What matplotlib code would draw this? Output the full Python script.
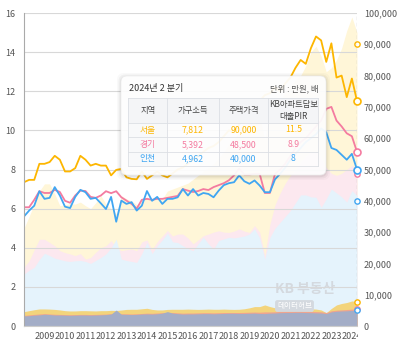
import matplotlib
matplotlib.use("Agg")
import matplotlib.pyplot as plt
import numpy as np
from matplotlib.patches import FancyBboxPatch, Rectangle
from matplotlib.transforms import Bbox

plt.rcParams['font.family'] = ['Noto Sans CJK KR', 'DejaVu Sans']

# quarterly, 2008 Q1 .. 2024 Q2
years = [str(y) for y in range(2009, 2025)]
regions = ['서울', '경기', '인천']
last_quarter = '2024년 2 분기'

# KB apartment PIR (left axis)
seoul_pir = [7.35, 7.47, 7.47, 8.29, 8.29, 8.38, 8.7, 8.5, 7.9, 7.9,
             8.07, 8.7, 8.5, 8.2, 8.29, 8.2, 8.2, 7.7, 7.98, 8.03,
             7.6, 7.52, 7.5, 7.9, 7.52, 7.7, 7.9, 7.7, 7.6, 7.8,
             8.0, 8.1, 8.3, 8.5, 8.7, 8.9, 9.1, 9.2, 9.4, 9.7,
             10.0, 9.9, 10.3, 10.6, 10.9, 11.3, 11.5, 11.8, 11.9, 12.2,
             12.0, 12.4, 12.7, 13.2, 13.6, 13.4, 14.2, 14.8, 14.6, 13.5,
             14.45, 12.7, 12.8, 11.7, 12.65, 11.5]
gyeonggi_pir = [6.07, 6.07, 6.45, 6.89, 6.8, 6.8, 6.96, 6.85, 6.4, 6.3,
                6.67, 6.92, 6.9, 6.6, 6.55, 6.67, 6.89, 6.79, 6.89, 6.58,
                6.41, 6.24, 6.0, 6.45, 6.5, 6.45, 6.5, 6.5, 6.55, 6.6,
                6.65, 7.0, 6.92, 6.85, 6.9, 7.0, 6.95, 7.1, 7.2, 7.3,
                7.45, 7.7, 8.05, 7.75, 7.75, 7.78, 7.78, 6.8, 6.8, 7.78,
                8.0, 8.3, 8.7, 9.1, 9.4, 9.6, 9.9, 10.2, 10.5, 11.1,
                11.2, 10.5, 10.2, 9.85, 9.7, 8.9]
incheon_pir = [5.6, 5.9, 6.15, 6.89, 6.5, 6.55, 7.1, 6.67, 6.1, 6.03,
               6.6, 6.96, 6.84, 6.5, 6.55, 6.27, 5.98, 6.6, 5.33, 6.41,
               6.24, 6.33, 5.9, 6.15, 6.9, 6.4, 6.6, 6.24, 6.5, 6.5,
               6.58, 7.0, 6.67, 7.0, 6.67, 6.8, 6.75, 6.58, 6.92, 7.2,
               7.3, 7.35, 7.7, 7.4, 7.27, 7.44, 7.18, 6.84, 6.84, 7.5,
               7.78, 8.1, 8.5, 8.8, 9.1, 9.4, 9.6, 9.8, 10.1, 9.9,
               9.1, 9.0, 8.75, 8.5, 8.8, 8.0]

# house price (만원)
seoul_price = [30000, 33600, 37400, 41400, 43600, 43600, 40500, 36900, 37200, 37500,
               37400, 38000, 36900, 36000, 37800, 40000, 37400, 36000, 34400, 40000,
               39000, 38400, 37200, 38400, 39600, 38400, 39600, 39000, 41400, 42000,
               42600, 43200, 43800, 45000, 46200, 47400, 48600, 49800, 51600, 53400,
               55800, 57600, 59400, 60600, 62400, 63600, 64800, 57000, 66000, 67200,
               69000, 72000, 73800, 75600, 76800, 79800, 84000, 85800, 82800, 78000,
               79200, 81600, 85200, 90600, 94800, 90000]
gyeonggi_price = [18000, 20000, 23400, 26600, 26600, 25600, 24600, 23100, 22500, 22100,
                  21600, 22200, 20500, 21000, 22600, 24000, 24600, 26200, 24000, 23100,
                  23400, 23600, 23100, 25800, 26400, 23400, 25800, 27600, 29300, 27600,
                  28200, 28200, 27000, 25200, 26400, 27700, 28200, 28800, 29200, 28800,
                  28700, 29100, 29800, 29100, 28700, 30800, 28800, 21600, 31200, 37200,
                  40800, 43800, 46200, 48000, 50400, 52200, 53400, 53400, 51600, 48600,
                  46800, 46200, 46800, 48000, 49200, 48500]
incheon_price = [15900, 17100, 18000, 20400, 22300, 21600, 20800, 20400, 20000, 19800,
                 20000, 20100, 19800, 19200, 20100, 21000, 22100, 24000, 26600, 20500,
                 20100, 19800, 19500, 22200, 25600, 22200, 24600, 26400, 28500, 25800,
                 25600, 24600, 23700, 23100, 25200, 27200, 25200, 23600, 26200, 26700,
                 27200, 27000, 27300, 27600, 28200, 29800, 27000, 20500, 27200, 30000,
                 31800, 33600, 35400, 37800, 40200, 40200, 39600, 39500, 36400, 39000,
                 42000, 40800, 39600, 38000, 41500, 40000]

# household income (만원)
seoul_income = [4590, 4900, 5200, 5450, 5450, 5400, 5300, 5130, 4900, 4800,
                4810, 4900, 4900, 4850, 4810, 4900, 4900, 5000, 4950, 5100,
                5300, 5340, 5340, 5500, 5660, 5300, 5130, 5130, 5300, 5340,
                5340, 5340, 5400, 5340, 5300, 5340, 5400, 5340, 5340, 5400,
                5340, 5300, 5340, 5500, 5800, 6200, 6200, 6730, 6200, 5800,
                5660, 5660, 5600, 5660, 5660, 5600, 5500, 5400, 5130, 4270,
                5600, 6730, 7200, 7500, 8000, 7812]
gyeonggi_income = [3400, 3550, 3700, 3850, 3950, 3850, 3750, 3700, 3650, 3600,
                   3650, 3700, 3700, 3650, 3700, 3750, 3800, 3950, 3950, 3900,
                   3900, 3850, 3900, 4000, 4100, 4050, 4150, 4250, 4350, 4300,
                   4200, 4100, 4150, 4150, 4200, 4250, 4250, 4200, 4250, 4300,
                   4300, 4300, 4300, 4350, 4400, 4450, 4400, 4500, 4500, 4550,
                   4650, 4700, 4700, 4750, 4750, 4700, 4650, 4600, 4550, 4300,
                   4850, 5050, 5150, 5250, 5400, 5392]
incheon_income = [3200, 3300, 3450, 3550, 3740, 3650, 3500, 3500, 3450, 3400,
                  3450, 3500, 3500, 3450, 3500, 3550, 3650, 3800, 5100, 3750,
                  3700, 3650, 3700, 3800, 3850, 3800, 3900, 4100, 4600, 4100,
                  3950, 3800, 3850, 3850, 3900, 3950, 3950, 3900, 3950, 4000,
                  4050, 4050, 4000, 4000, 4050, 4100, 4000, 3950, 4100, 4150,
                  4250, 4300, 4300, 4350, 4350, 4300, 4250, 4200, 4150, 3950,
                  4500, 4700, 4800, 4850, 5000, 4962]

c_seoul, c_gg, c_ic = '#FDB600', '#F47BA0', '#40A6F2'

W, H = 400, 347
fig = plt.figure(figsize=(W / 100, H / 100), dpi=100)
ax = fig.add_axes([24 / W, 1 - 326 / H, 333 / W, 313 / H])
ax_price = ax.twinx()
ax_inc = ax.twinx()
ax_price.set_zorder(1)
ax_inc.set_zorder(2)
ax.set_zorder(3)
ax.patch.set_visible(False)

x = np.arange(len(seoul_pir))

# price areas sit on their own (hidden) scale
ax_price.fill_between(x, seoul_price, color='#FFF6D8', lw=0)
ax_price.fill_between(x, gyeonggi_price, color='#FCE8EF', lw=0)
ax_price.fill_between(x, incheon_price, color='#E5F3FC', lw=0)
ax_price.set_ylim(0, 96000)
ax_price.set_yticks([])
for s in ax_price.spines.values():
    s.set_visible(False)

# income areas + right axis
ax_inc.fill_between(x, seoul_income, color='#F3D47C', lw=0)
ax_inc.fill_between(x, gyeonggi_income, color='#EFA48F', lw=0)
ax_inc.fill_between(x, incheon_income, color='#A3ADC7', lw=0)
ax_inc.set_ylim(0, 100000)
ax_inc.set_yticks(range(0, 100001, 10000))
ax_inc.set_yticklabels([f"{v:,}" for v in range(0, 100001, 10000)])
ax_inc.tick_params(axis='y', length=0, pad=5, labelsize=6.5, labelcolor='#555555')
for s in ax_inc.spines.values():
    s.set_visible(False)
for vals, c in [(seoul_price, c_seoul), (gyeonggi_price, c_gg), (incheon_price, c_ic),
                (seoul_income, c_seoul), (gyeonggi_income, c_gg), (incheon_income, c_ic)]:
    ax_inc.plot(x[-1], vals[-1], 'o', ms=3.8, mfc='white', mec=c, mew=1, clip_on=False, zorder=5)

# PIR lines
ax.plot(x, seoul_pir, color=c_seoul, lw=1.3)
ax.plot(x, gyeonggi_pir, color=c_gg, lw=1.3)
ax.plot(x, incheon_pir, color=c_ic, lw=1.3)
ax.axvline(x[-1], color='#B5B5B5', lw=0.9, ls=(0, (3, 2)), zorder=1)
for vals, c in [(seoul_pir, c_seoul), (gyeonggi_pir, c_gg), (incheon_pir, c_ic)]:
    ax.plot(x[-1], vals[-1], 'o', ms=5, mfc='white', mec=c, mew=1.2, clip_on=False, zorder=6)

ax.set_xlim(0, x[-1])
ax.set_ylim(0, 16)
ax.set_yticks(range(0, 17, 2))
ax.grid(axis='y', color='#D8D8D8', lw=0.8)
ax.set_xticks(x[4::4])
ax.set_xticklabels(years)
ax.tick_params(axis='x', length=0, pad=4, labelsize=6.5, labelcolor='#555555')
ax.tick_params(axis='y', length=0, pad=6, labelsize=6.5, labelcolor='#555555')
for side in ['top', 'right']:
    ax.spines[side].set_visible(False)
ax.spines['left'].set_color('#AAAAAA')
ax.spines['bottom'].set_color('#CCCCCC')

lbl = ax.get_xticklabels()[-1]
lbl.set_clip_on(True)
lbl.set_clip_box(Bbox.from_extents(0, 0, 357.5, H))

# watermark
fig.text(275 / W, 1 - 289 / H, 'KB 부동산', fontsize=10, fontweight='bold',
         color='#D4D9DF', ha='left', va='center', zorder=2.5)
fig.text(277 / W, 1 - 306 / H, '데이터허브', fontsize=5.5, color='white',
         ha='left', va='center', zorder=2.5,
         bbox=dict(boxstyle='round,pad=0.25,rounding_size=0.3', fc='#D4D9DF', ec='none'))

# tooltip
tip = fig.add_axes([112 / W, 1 - 183 / H, 223 / W, 116 / H])
tip.set_xlim(112, 335)
tip.set_ylim(183, 67)
tip.axis('off')
tip.set_zorder(10)
for grow, a in [(4, 0.025), (2.5, 0.04), (1.2, 0.05)]:
    tip.add_patch(FancyBboxPatch((121 - grow, 76 - grow + 1), 205 + 2 * grow, 99 + 2 * grow,
                                 boxstyle='round,pad=0,rounding_size=7', fc='black',
                                 ec='none', alpha=a))
tip.add_patch(FancyBboxPatch((121, 76), 205, 99, boxstyle='round,pad=0,rounding_size=6',
                             fc='white', ec='#ECECEC', lw=0.5, alpha=0.94))

cols = [128.3, 167.3, 218.7, 268.3, 318.3]
rows = [98.3, 122.7, 137.3, 151.7, 165.7]
tip.add_patch(Rectangle((cols[0], rows[0]), cols[-1] - cols[0], rows[1] - rows[0],
                        fc='#F4F5F7', ec='none'))
tip.add_patch(Rectangle((cols[0], rows[1]), cols[1] - cols[0], rows[-1] - rows[1],
                        fc='#F8F9FA', ec='none'))
for r in rows:
    tip.plot([cols[0], cols[-1]], [r, r], color='#DCDFE4', lw=0.6)
for c in cols:
    tip.plot([c, c], [rows[0], rows[-1]], color='#DCDFE4', lw=0.6)

tip.text(129, 88.5, last_quarter, fontsize=6.5, color='#333333', ha='left', va='center')
tip.text(318, 88.5, '단위 : 만원, 배', fontsize=6, color='#555555', ha='right', va='center')

headers = ['지역', '가구소득', '주택가격', 'KB아파트담보\n대출PIR']
for i, h in enumerate(headers):
    tip.text((cols[i] + cols[i + 1]) / 2, (rows[0] + rows[1]) / 2, h, fontsize=6,
             color='#444444', ha='center', va='center', linespacing=1.3)

table = [(regions[0], seoul_income, seoul_price, seoul_pir, c_seoul),
         (regions[1], gyeonggi_income, gyeonggi_price, gyeonggi_pir, c_gg),
         (regions[2], incheon_income, incheon_price, incheon_pir, c_ic)]
for r, (name, inc, price, pir, c) in enumerate(table):
    yc = (rows[r + 1] + rows[r + 2]) / 2
    cells = [name, f"{inc[-1]:,}", f"{price[-1]:,}", f"{pir[-1]:g}"]
    for i, t in enumerate(cells):
        tip.text((cols[i] + cols[i + 1]) / 2, yc, t, fontsize=6.3, color=c,
                 ha='center', va='center')

fig.savefig('out.png', dpi=100)
